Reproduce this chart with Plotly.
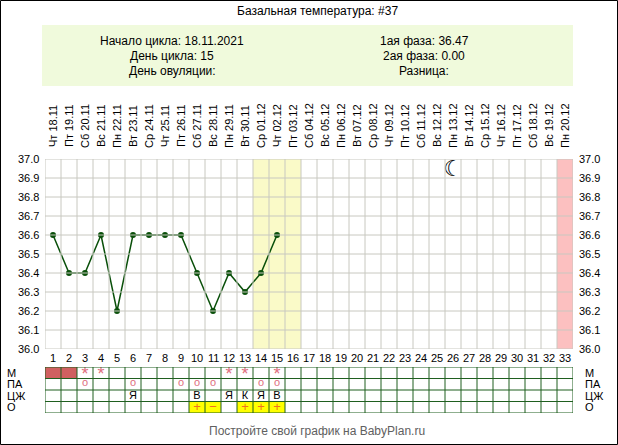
import plotly.graph_objects as go

# ---- данные ----
dias = list(range(1, 34))
datas = ["18.11", "19.11", "20.11", "21.11", "22.11", "23.11", "24.11", "25.11", "26.11", "27.11",
         "28.11", "29.11", "30.11", "01.12", "02.12", "03.12", "04.12", "05.12", "06.12", "07.12",
         "08.12", "09.12", "10.12", "11.12", "12.12", "13.12", "14.12", "15.12", "16.12", "17.12",
         "18.12", "19.12", "20.12"]
semana = ["Чт", "Пт", "Сб", "Вс", "Пн", "Вт", "Ср"] * 5
temp_dias = list(range(1, 16))
temperaturas = [36.6, 36.4, 36.4, 36.6, 36.2, 36.6, 36.6, 36.6, 36.6, 36.4, 36.2, 36.4, 36.3, 36.4, 36.6]
menstruacao = [1, 2]
estrelas = [3, 4, 12, 13, 15]
pa_dias = [3, 6, 9, 10, 11, 14, 15]
cj_dias = [6, 10, 12, 13, 14, 15]
cj_txt = ["Я", "В", "Я", "К", "Я", "В"]
o_dias = [10, 11, 13, 14, 15]
o_txt = ["+", "−", "+", "+", "+"]
dias_amarelos = [14, 15, 16]
dia_rosa = 33
dia_lua = 26

W, H = 618, 445
L, R, T, B = 45, 573, 159, 413
px = lambda x: (x - L) / (R - L)
py = lambda y: (B - y) / (B - T)
FONT = "Liberation Sans, Arial"
VERDE = "#1f5f1f"

fig = go.Figure()
shapes = []
ann = []


def txt(x, y, texto, xref="paper", yref="paper", xanchor="center", **kw):
    ann.append(dict(xref=xref, yref=yref, x=x, y=y, text=texto, showarrow=False,
                    xanchor=xanchor, yanchor="middle", **kw))


# fundos
for d in dias_amarelos:
    shapes.append(dict(type="rect", xref="x", yref="y", x0=d - 0.5, x1=d + 0.5, y0=36.0, y1=37.0,
                       fillcolor="#fafac8", line_width=0, layer="below"))
shapes.append(dict(type="rect", xref="x", yref="y", x0=dia_rosa - 0.5, x1=dia_rosa + 0.5, y0=36.0, y1=37.0,
                   fillcolor="#fcc0c0", line_width=0, layer="below"))
# grade temperatura
for i in range(34):
    shapes.append(dict(type="line", xref="x", yref="y", x0=i + 0.5, x1=i + 0.5, y0=36.0, y1=37.0,
                       line=dict(color="#c8c8c0", width=1)))
for k in range(11):
    v = 36.0 + k / 10
    shapes.append(dict(type="line", xref="x", yref="y", x0=0.5, x1=33.5, y0=v, y1=v,
                       line=dict(color="#c8c8c0", width=1)))
    txt(px(41), v, f"{v:.1f}", yref="y", xanchor="right", font=dict(size=11))
    txt(px(577), v, f"{v:.1f}", yref="y", xanchor="left", font=dict(size=11))

# tabela
for d in menstruacao:
    shapes.append(dict(type="rect", xref="x", yref="y2", x0=d - 0.5, x1=d + 0.5, y0=3, y1=4,
                       fillcolor="#d06060", line_width=0, layer="below"))
for d in o_dias:
    shapes.append(dict(type="rect", xref="x", yref="y2", x0=d - 0.5, x1=d + 0.5, y0=0, y1=1,
                       fillcolor="#ffff00", line_width=0, layer="below"))
for i in range(34):
    shapes.append(dict(type="line", xref="x", yref="y2", x0=i + 0.5, x1=i + 0.5, y0=0, y1=4,
                       line=dict(color=VERDE, width=1)))
for k in range(5):
    shapes.append(dict(type="line", xref="x", yref="y2", x0=0.5, x1=33.5, y0=k, y1=k,
                       line=dict(color=VERDE, width=1)))
for j, nome in enumerate(["М", "ПА", "ЦЖ", "О"]):
    for xx in (px(5), px(583)):
        txt(xx, 3.5 - j, nome, yref="y2", xanchor="left", font=dict(size=11))

fig.add_trace(go.Scatter(x=estrelas, y=[3.25] * len(estrelas), mode="text", text=["*"] * len(estrelas),
                         textfont=dict(size=18, color="#e07080"), yaxis="y2"))
fig.add_trace(go.Scatter(x=pa_dias, y=[2.55] * len(pa_dias), mode="text", text=["o"] * len(pa_dias),
                         textfont=dict(size=11, color="#e07080"), yaxis="y2"))
fig.add_trace(go.Scatter(x=cj_dias, y=[1.5] * len(cj_dias), mode="text", text=cj_txt,
                         textfont=dict(size=11, color="black"), yaxis="y2"))
fig.add_trace(go.Scatter(x=o_dias, y=[0.5] * len(o_dias), mode="text", text=o_txt,
                         textfont=dict(size=13, color="#f07020"), yaxis="y2"))

# linha de temperatura
fig.add_trace(go.Scatter(x=temp_dias, y=temperaturas, mode="lines+markers",
                         line=dict(color="#0a500a", width=1.5), marker=dict(color="#0a500a", size=6)))
fig.add_trace(go.Scatter(x=[dia_lua], y=[36.94], mode="text", text=["☾"],
                         textfont=dict(size=22, color="black", family="DejaVu Sans")))

# datas e números
for d, dt, s in zip(dias, datas, semana):
    txt(d, py(126), f"{s} {dt}", xref="x", textangle=-90, font=dict(size=11))
    txt(d, py(358), str(d), xref="x", font=dict(size=11))

# cabeçalho
shapes.append(dict(type="rect", xref="paper", yref="paper", x0=px(42), x1=px(573), y0=py(86), y1=py(25),
                   fillcolor="#f0fadc", line_width=0, layer="below"))
txt(px(317), py(11), "Базальная температура: #37", font=dict(size=12))
for texto, yy in [("Начало цикла: 18.11.2021", 41), ("День цикла: 15", 56), ("День овуляции:", 71)]:
    txt(px(172), py(yy), texto, font=dict(size=12))
for texto, yy in [("1ая фаза: 36.47", 41), ("2ая фаза: 0.00", 56), ("Разница:", 71)]:
    txt(px(424), py(yy), texto, font=dict(size=12))
txt(px(317), py(431), "Постройте свой график на BabyPlan.ru", font=dict(size=12, color="#606060"))
# moldura
shapes.append(dict(type="rect", xref="paper", yref="paper", x0=px(0.5), x1=px(617.5), y0=py(444.5), y1=py(0.5),
                   line=dict(color="black", width=1)))

fig.update_layout(
    width=W, height=H, margin=dict(l=L, r=W - R, t=T, b=H - B, pad=0),
    paper_bgcolor="white", plot_bgcolor="white", showlegend=False,
    font=dict(family=FONT, size=11, color="black"),
    xaxis=dict(range=[0.5, 33.5], visible=False, fixedrange=True),
    yaxis=dict(range=[36.0, 37.0], domain=[1 - 190 / 254, 1], visible=False),
    yaxis2=dict(range=[0, 4], domain=[0, 46 / 254], visible=False),
    shapes=shapes, annotations=ann,
)
fig.write_html("out.html", config={"displayModeBar": False})

# sem margem do body, para a figura ocupar a janela inteira
with open("out.html", encoding="utf-8") as f:
    html = f.read()
html = html.replace("<head>", "<head><style>body{margin:0;overflow:hidden}</style>", 1)
with open("out.html", "w", encoding="utf-8") as f:
    f.write(html)
